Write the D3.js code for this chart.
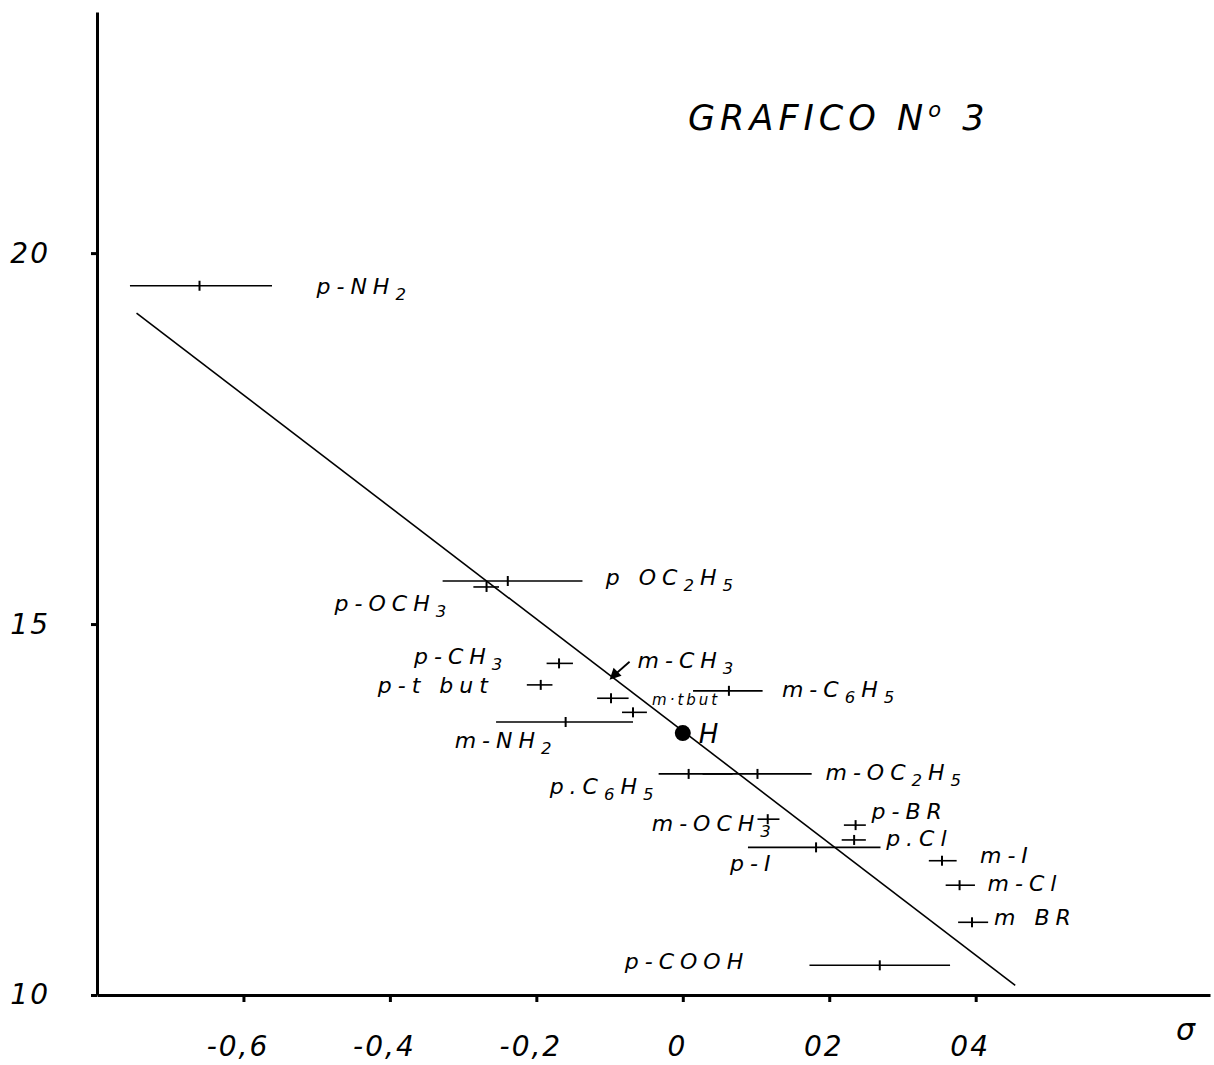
<!DOCTYPE html>
<meta charset="utf-8">
<body style="margin:0;background:#fff">
<script src="https://cdn.jsdelivr.net/npm/d3@7"></script>
<script>

    // tick values / labels as written on the sheet
    var sigmaTicks      = [-0.6, -0.4, -0.2, 0, 0.2, 0.4];
    var sigmaTickLabels = ["-0,6", "-0,4", "-0,2", "0", "02", "04"];
    var rateTicks       = [10, 15, 20];

    // substituents ("_" marks the next character as subscript)
    var substituents = ["p-NH_2", "p OC_2H_5", "p-OCH_3", "p-CH_3", "p-t but", "m·tbut", "",
                        "m-C_6H_5", "m-NH_2", "m-OC_2H_5", "p.C_6H_5", "m-OCH_3", "p-BR",
                        "p.Cl", "p-I", "m-I", "m-Cl", "m BR", "p-COOH"];
    var sigma     = [-0.660, -0.239, -0.268, -0.169, -0.194, -0.098, -0.068,
                      0.063, -0.160,  0.102,  0.008,  0.116,  0.236,
                      0.234,  0.182,  0.354,  0.378,  0.395,  0.269];
    var sigmaLow  = [-0.755, -0.328, -0.286, -0.186, -0.213, -0.117, -0.083,
                      0.014, -0.255,  0.027, -0.033,  0.102,  0.220,
                      0.217,  0.089,  0.336,  0.359,  0.376,  0.173];
    var sigmaHigh = [-0.561, -0.137, -0.251, -0.150, -0.178, -0.074, -0.049,
                      0.109, -0.068,  0.176,  0.068,  0.132,  0.250,
                      0.250,  0.270,  0.374,  0.399,  0.417,  0.365];
    var rate      = [19.56, 15.58, 15.50, 14.47, 14.18, 14.00, 13.81,
                     14.10, 13.68, 12.98, 12.98, 12.37, 12.29,
                     12.09, 11.99, 11.81, 11.48, 10.98, 10.40];

    // label placement, pixels from the point
    var labelDx = [117,  98, -152, -145, -163,  41, 0,  53, -111,  68, -139, -116,  16,  32, -86,  38,  28,  22, -255];
    var labelDy = [  8,   4,   24,    1,    8,   7, 0,   6,   26,   6,   20,   12,  -6,   6,  24,   2,   6,   3,    4];

    // reference compound H and fitted line
    var hSigma = 0, hRate = 13.53;
    var lineSigma = [-0.746, 0.454];
    var lineRate  = [19.19, 10.13];

    // m-CH3 is marked by an arrow onto the line
    var arrowSigma = -0.100, arrowRate = 14.25;

    var width  = 1214,
        height = 1065;

    var svg = d3.select("body")
                .append("svg")
                .attr("width", width)
                .attr("height", height)
                .style("font-family", "'DejaVu Sans', sans-serif")
                .style("font-style", "italic");

    var x = d3.scaleLinear().domain([-0.8, 0.72]).range([97, 1210]);
    var y = d3.scaleLinear().domain([10, 23.25]).range([995, 12]);

    function addRich(sel, str) {
        var parts = [], i = 0;
        while (i < str.length) {
            if (str[i] === "_") {
                parts.push({t: str[i + 1], sub: true});
                i += 2;
            } else {
                var j = i;
                while (j < str.length && str[j] !== "_") j++;
                parts.push({t: str.slice(i, j), sub: false});
                i = j;
            }
        }
        var shift = 0;
        parts.forEach(function (p) {
            var ts = sel.append("tspan").text(p.t);
            if (p.sub) {
                ts.attr("dy", 6 - shift).style("font-size", "0.75em");
                shift = 6;
            } else if (shift) {
                ts.attr("dy", -shift);
                shift = 0;
            }
        });
    }

    // axes
    var xAxis = d3.axisBottom(x)
                  .tickValues(sigmaTicks)
                  .tickFormat(function (d, i) { return sigmaTickLabels[i]; })
                  .tickSize(7)
                  .tickSizeOuter(0)
                  .tickPadding(34);

    var yAxis = d3.axisLeft(y)
                  .tickValues(rateTicks)
                  .tickSize(6)
                  .tickSizeOuter(0)
                  .tickPadding(41);

    var gx = svg.append("g")
                .attr("transform", "translate(0," + y(10) + ")")
                .call(xAxis);

    var gy = svg.append("g")
                .attr("transform", "translate(" + x(-0.8) + ",0)")
                .call(yAxis);

    [gx, gy].forEach(function (g) {
        g.attr("font-family", null).attr("font-size", null);
        g.select(".domain").attr("stroke", "#000").attr("stroke-width", 3);
        g.selectAll(".tick line").attr("stroke", "#000").attr("stroke-width", 3);
        g.selectAll(".tick text")
         .attr("fill", "#000")
         .style("font-size", "28px")
         .style("letter-spacing", "2px");
    });
    gx.selectAll(".tick text").attr("dx", -6);

    svg.append("text")
       .attr("x", 1176)
       .attr("y", 1040)
       .style("font-size", "30px")
       .text("σ");

    // fitted line
    var line = d3.line()
                 .x(function (d) { return x(d[0]); })
                 .y(function (d) { return y(d[1]); });

    svg.append("path")
       .datum(d3.zip(lineSigma, lineRate))
       .attr("d", line)
       .attr("fill", "none")
       .attr("stroke", "#000")
       .attr("stroke-width", 1.6);

    // points with horizontal ranges
    var pts = substituents.map(function (s, i) {
        return {name: s, s: sigma[i], lo: sigmaLow[i], hi: sigmaHigh[i], r: rate[i],
                dx: labelDx[i], dy: labelDy[i]};
    });

    var node = svg.selectAll(".pt")
                  .data(pts)
                  .enter()
                  .append("g")
                  .attr("class", "pt");

    node.append("line")
        .attr("x1", function (d) { return x(d.lo); })
        .attr("x2", function (d) { return x(d.hi); })
        .attr("y1", function (d) { return y(d.r); })
        .attr("y2", function (d) { return y(d.r); })
        .attr("stroke", "#000")
        .attr("stroke-width", 1.6);

    node.append("line")
        .attr("x1", function (d) { return x(d.s); })
        .attr("x2", function (d) { return x(d.s); })
        .attr("y1", function (d) { return y(d.r) - 5; })
        .attr("y2", function (d) { return y(d.r) + 5; })
        .attr("stroke", "#000")
        .attr("stroke-width", 2);

    node.filter(function (d) { return d.name; })
        .append("text")
        .attr("x", function (d) { return x(d.s) + d.dx; })
        .attr("y", function (d) { return y(d.r) + d.dy; })
        .style("font-size", function (d) { return d.name === "m·tbut" ? "15px" : "22px"; })
        .style("letter-spacing", function (d) { return d.name === "m·tbut" ? "3px" : "6px"; })
        .each(function (d) { addRich(d3.select(this), d.name); });

    // H
    svg.append("circle")
       .attr("cx", x(hSigma))
       .attr("cy", y(hRate))
       .attr("r", 8)
       .attr("fill", "#000");

    svg.append("text")
       .attr("x", x(hSigma) + 16)
       .attr("y", y(hRate) + 10)
       .style("font-size", "26px")
       .text("H");

    // m-CH3 arrow
    var ax = x(arrowSigma), ay = y(arrowRate);
    svg.append("line")
       .attr("x1", ax + 20).attr("y1", ay - 18)
       .attr("x2", ax + 4).attr("y2", ay - 4)
       .attr("stroke", "#000")
       .attr("stroke-width", 1.8);
    svg.append("path")
       .attr("d", "M" + ax + "," + ay + "l4,-12l8,8z")
       .attr("fill", "#000");
    var mch3 = svg.append("text")
                  .attr("x", ax + 28)
                  .attr("y", ay - 12)
                  .style("font-size", "22px")
                  .style("letter-spacing", "6px");
    addRich(mch3, "m-CH_3");

    // title
    var title = svg.append("text")
                   .attr("x", 688)
                   .attr("y", 130)
                   .style("font-size", "35px")
                   .style("letter-spacing", "5px")
                   .text("GRAFICO N");
    title.append("tspan").attr("dy", -13).style("font-size", "0.6em").text("o");
    title.append("tspan").attr("dy", 13).text(" 3");

</script>
</body>
